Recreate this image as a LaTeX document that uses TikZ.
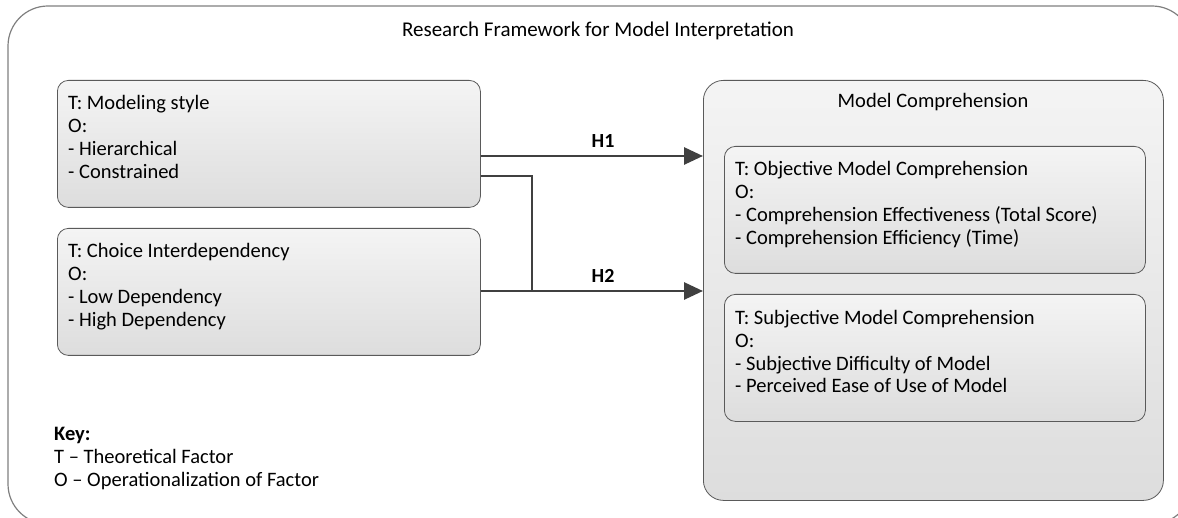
\documentclass[tikz,border=0pt]{standalone}
\usepackage{fontspec}
\setmainfont{Carlito}
\usetikzlibrary{arrows.meta}
\definecolor{frameC}{HTML}{7F7F7F}
\definecolor{boxC}{HTML}{5A5A5A}
\definecolor{arrC}{HTML}{404040}
\definecolor{topG}{HTML}{F4F4F4}
\definecolor{botG}{HTML}{DDDDDD}
\tikzset{
  box/.style={draw=boxC, line width=0.8pt, rounded corners=11pt, top color=topG, bottom color=botG, inner sep=0pt, anchor=north west},
  txt/.style={font=\fontsize{20.5}{23}\selectfont, align=left, anchor=base west, inner sep=0pt},
  lbl/.style={font=\fontsize{20}{20}\selectfont\bfseries, inner sep=0pt},
  conn/.style={draw=arrC, line width=2.8pt},
  arr/.style={conn, -{Triangle[length=19pt,width=17pt]}}
}
\begin{document}
\begin{tikzpicture}[x=1pt,y=-1pt]
\useasboundingbox (0,0) rectangle (1178,518);
\begin{scope}
\clip (0,0) rectangle (1178,518);
\draw[frameC, line width=1.2pt, rounded corners=40pt] (8,6) rectangle (1192,524);
\end{scope}
\node[font=\fontsize{21}{21}\selectfont, inner sep=0pt, anchor=base] (title) at (598,37) {Research Framework for Model Interpretation};
% left boxes (text anchored at the baseline of its last line)
\node[box, minimum width=423pt, minimum height=127pt] (A) at (57,80) {};
\node[txt] (At) at (68,179) {T: Modeling style\\O:\\- Hierarchical\\- Constrained};
\node[box, minimum width=423pt, minimum height=127pt] (B) at (57,228) {};
\node[txt] (Bt) at (68,327) {T: Choice Interdependency\\O:\\- Low Dependency\\- High Dependency};
% right big box
\node[box, minimum width=460pt, minimum height=420pt, rounded corners=20pt] (M) at (703,80) {};
\node[font=\fontsize{20.5}{20}\selectfont, inner sep=0pt, anchor=base] (Mt) at (933,108) {Model Comprehension};
\node[box, minimum width=421pt, minimum height=127pt] (C) at (724,146) {};
\node[txt] (Ct) at (735,245) {T: Objective Model Comprehension\\O:\\- Comprehension Effectiveness (Total Score)\\- Comprehension Efficiency (Time)};
\node[box, minimum width=421pt, minimum height=127pt] (D) at (724,294) {};
\node[txt] (Dt) at (735,393) {T: Subjective Model Comprehension\\O:\\- Subjective Difficulty of Model\\- Perceived Ease of Use of Model};
% connectors
\coordinate (a1) at (A.east |- 0,156);
\coordinate (a2) at (A.east |- 0,176);
\coordinate (b1) at (B.east |- 0,291);
\coordinate (j) at (532,291);
\draw[arr] (a1) -- (a1 -| M.west) node[lbl, pos=0.55, above=7pt] (H1) {H1};
\draw[conn] (a2) -| (j);
\draw[arr] (b1) -- (b1 -| M.west) node[lbl, pos=0.55, above=7pt] (H2) {H2};
% key
\node[txt] (key) at (54,486) {\textbf{Key:}\\T -- Theoretical Factor\\O -- Operationalization of Factor};
\end{tikzpicture}
\end{document}
